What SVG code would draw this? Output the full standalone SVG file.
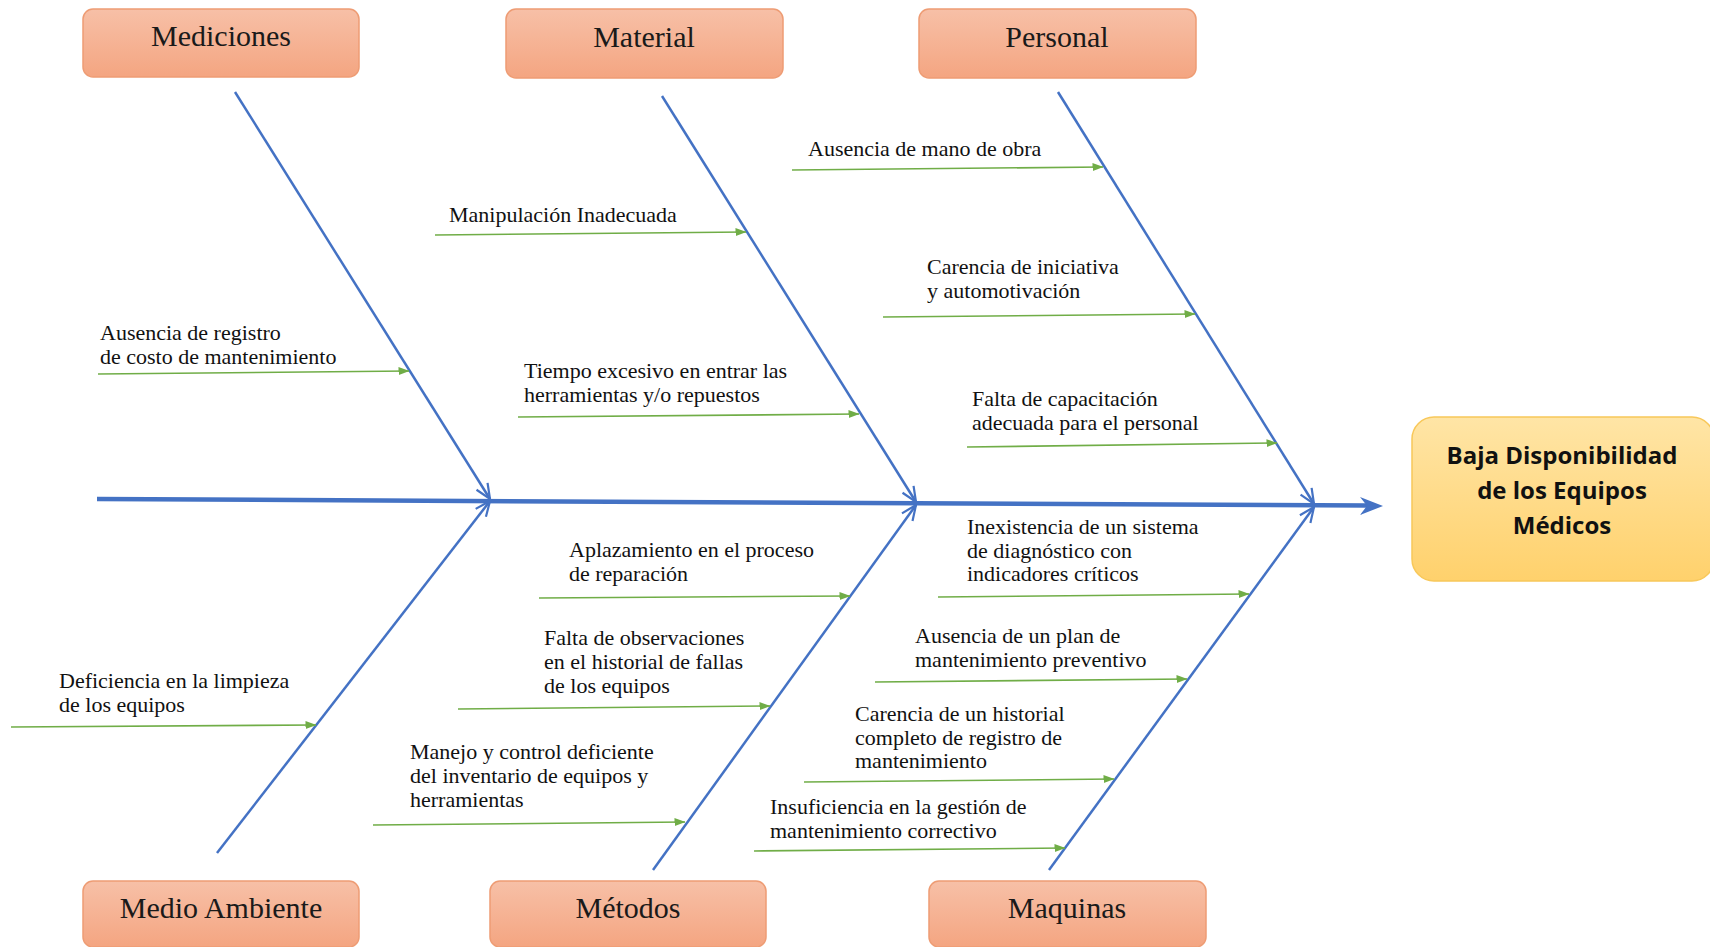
<svg xmlns="http://www.w3.org/2000/svg" width="1710" height="947" viewBox="0 0 1710 947">
<style>
.cat{fill:url(#catGrad);stroke:#EE9C74;stroke-width:1.5}
.catT{font-family:"Liberation Serif","Times New Roman",serif;font-size:30px;fill:#1a1a1a;text-anchor:middle}
.cause{font-family:"Liberation Serif","Times New Roman",serif;font-size:22px;fill:#111}
.bone{stroke:#4472C4;stroke-width:2.5;fill:none;marker-end:url(#boneArrow)}
.spine{stroke:#4472C4;stroke-width:4.5;fill:none}
.sub{stroke:#70AD47;stroke-width:1.6;fill:none;marker-end:url(#greenArrow)}
.headT{font-family:"Open Sans","Noto Sans",sans-serif;font-weight:bold;font-size:24px;fill:#111;text-anchor:middle}
</style>
<defs>
<linearGradient id="catGrad" x1="0" y1="0" x2="0" y2="1">
<stop offset="0" stop-color="#F7C0A7"/>
<stop offset="1" stop-color="#F4A581"/>
</linearGradient>
<linearGradient id="headGrad" x1="0" y1="0" x2="0" y2="1">
<stop offset="0" stop-color="#FFE5A6"/>
<stop offset="1" stop-color="#FFD16C"/>
</linearGradient>
<marker id="greenArrow" markerUnits="userSpaceOnUse" viewBox="0 0 11 8" markerWidth="11" markerHeight="8" refX="10.5" refY="4" orient="auto">
<path d="M0,0 L11,4 L0,8 z" fill="#70AD47"/>
</marker>
<marker id="boneArrow" markerUnits="userSpaceOnUse" viewBox="-17 -9 19 18" markerWidth="19" markerHeight="18" refX="0" refY="0" orient="auto">
<path d="M-15,-6.5 L0,0 L-15,6.5" fill="none" stroke="#4472C4" stroke-width="2.2"/>
</marker>
</defs>
<rect width="1710" height="947" fill="#ffffff"/>

<g id="connectors">
<line class="spine" x1="97" y1="499" x2="1368" y2="505.6"/>
<path d="M1383,506 L1360,497 L1367,505.8 L1360,515 z" fill="#4472C4"/>
<line class="bone" x1="235" y1="92" x2="490" y2="499"/>
<line class="bone" x1="662" y1="96" x2="916" y2="502"/>
<line class="bone" x1="1058" y1="92" x2="1314" y2="504"/>
<line class="bone" x1="217" y1="853" x2="490" y2="501"/>
<line class="bone" x1="653" y1="870" x2="916" y2="505"/>
<line class="bone" x1="1049" y1="870" x2="1314" y2="507"/>
<line class="sub" x1="98" y1="374" x2="409" y2="371"/>
<line class="sub" x1="435" y1="235" x2="746" y2="232"/>
<line class="sub" x1="518" y1="417" x2="859" y2="414"/>
<line class="sub" x1="792" y1="170" x2="1103" y2="167"/>
<line class="sub" x1="883" y1="317" x2="1195" y2="314"/>
<line class="sub" x1="967" y1="447" x2="1277" y2="443"/>
<line class="sub" x1="11" y1="727" x2="316" y2="725"/>
<line class="sub" x1="539" y1="598" x2="850" y2="596"/>
<line class="sub" x1="458" y1="709" x2="770" y2="706"/>
<line class="sub" x1="373" y1="825" x2="685" y2="822"/>
<line class="sub" x1="938" y1="597" x2="1249" y2="594"/>
<line class="sub" x1="875" y1="682" x2="1187" y2="679"/>
<line class="sub" x1="804" y1="782" x2="1114" y2="779"/>
<line class="sub" x1="754" y1="851" x2="1065" y2="848"/>
</g>

<g id="head">
<rect x="1412" y="417" width="302" height="164" rx="22" fill="url(#headGrad)" stroke="#F8C85A" stroke-width="1.5"/>
<text class="headT"><tspan x="1562" y="464">Baja Disponibilidad</tspan><tspan x="1562" y="499">de los Equipos</tspan><tspan x="1562" y="534">Médicos</tspan></text>
</g>

<g id="cat-mediciones">
<rect class="cat" x="83" y="9" width="276" height="68" rx="10"/>
<text class="catT" x="221" y="46">Mediciones</text>
</g>
<g id="cat-material">
<rect class="cat" x="506" y="9" width="277" height="69" rx="10"/>
<text class="catT" x="644" y="47">Material</text>
</g>
<g id="cat-personal">
<rect class="cat" x="919" y="9" width="277" height="69" rx="10"/>
<text class="catT" x="1057" y="47">Personal</text>
</g>
<g id="cat-medio-ambiente">
<rect class="cat" x="83" y="881" width="276" height="66" rx="10"/>
<text class="catT" x="221" y="918">Medio Ambiente</text>
</g>
<g id="cat-metodos">
<rect class="cat" x="490" y="881" width="276" height="66" rx="10"/>
<text class="catT" x="628" y="918">Métodos</text>
</g>
<g id="cat-maquinas">
<rect class="cat" x="929" y="881" width="277" height="66" rx="10"/>
<text class="catT" x="1067" y="918">Maquinas</text>
</g>

<g id="cause-1"><text class="cause"><tspan x="100" y="340">Ausencia de registro</tspan><tspan x="100" dy="23.5">de costo de mantenimiento</tspan></text></g>
<g id="cause-2"><text class="cause"><tspan x="449" y="222">Manipulación Inadecuada</tspan></text></g>
<g id="cause-3"><text class="cause"><tspan x="524" y="378">Tiempo excesivo en entrar las</tspan><tspan x="524" dy="23.5">herramientas y/o repuestos</tspan></text></g>
<g id="cause-4"><text class="cause"><tspan x="808" y="156">Ausencia de mano de obra</tspan></text></g>
<g id="cause-5"><text class="cause"><tspan x="927" y="274">Carencia de iniciativa</tspan><tspan x="927" dy="23.5">y automotivación</tspan></text></g>
<g id="cause-6"><text class="cause"><tspan x="972" y="406">Falta de capacitación</tspan><tspan x="972" dy="23.5">adecuada para el personal</tspan></text></g>
<g id="cause-7"><text class="cause"><tspan x="59" y="688">Deficiencia en la limpieza</tspan><tspan x="59" dy="23.5">de los equipos</tspan></text></g>
<g id="cause-8"><text class="cause"><tspan x="569" y="557">Aplazamiento en el proceso</tspan><tspan x="569" dy="23.5">de reparación</tspan></text></g>
<g id="cause-9"><text class="cause"><tspan x="544" y="645">Falta de observaciones</tspan><tspan x="544" dy="24">en el historial de fallas</tspan><tspan x="544" dy="24">de los equipos</tspan></text></g>
<g id="cause-10"><text class="cause"><tspan x="410" y="759">Manejo y control deficiente</tspan><tspan x="410" dy="24">del inventario de equipos y</tspan><tspan x="410" dy="24">herramientas</tspan></text></g>
<g id="cause-11"><text class="cause"><tspan x="967" y="534">Inexistencia de un sistema</tspan><tspan x="967" dy="23.5">de diagnóstico con</tspan><tspan x="967" dy="23.5">indicadores críticos</tspan></text></g>
<g id="cause-12"><text class="cause"><tspan x="915" y="643">Ausencia de un plan de</tspan><tspan x="915" dy="23.5">mantenimiento preventivo</tspan></text></g>
<g id="cause-13"><text class="cause"><tspan x="855" y="721">Carencia de un historial</tspan><tspan x="855" dy="23.5">completo de registro de</tspan><tspan x="855" dy="23.5">mantenimiento</tspan></text></g>
<g id="cause-14"><text class="cause"><tspan x="770" y="814">Insuficiencia en la gestión de</tspan><tspan x="770" dy="23.5">mantenimiento correctivo</tspan></text></g>
</svg>
